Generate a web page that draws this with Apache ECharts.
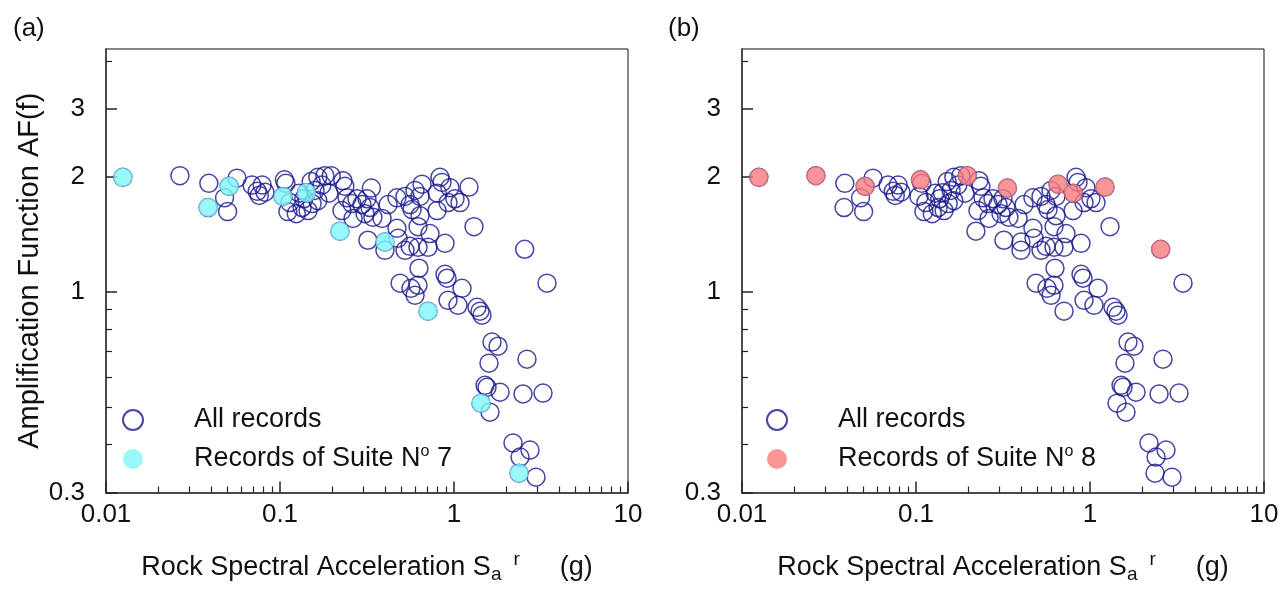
<!DOCTYPE html>
<html>
<head>
<meta charset="utf-8">
<script src="https://cdn.jsdelivr.net/npm/echarts@6/dist/echarts.min.js"></script>
<style>
  html, body { margin: 0; padding: 0; background: #fff; }
  #chart { width: 1287px; height: 593px; }
</style>
</head>
<body>
<div id="chart"></div>
<script>
// Rock spectral acceleration Sa^r (g) and amplification AF(f) of every record
const allSa = [
  0.0125, 0.0266, 0.039, 0.0386, 0.048, 0.050, 0.051, 0.0566, 0.069, 0.074,
  0.079, 0.082, 0.076, 0.106, 0.108, 0.104, 0.114, 0.111, 0.124, 0.134,
  0.145, 0.153, 0.137, 0.142, 0.129, 0.151, 0.165, 0.181, 0.197, 0.174,
  0.159, 0.191, 0.165, 0.236, 0.243, 0.227, 0.259, 0.221, 0.263, 0.277,
  0.230, 0.296, 0.316, 0.335, 0.329, 0.308, 0.342, 0.386, 0.418, 0.470,
  0.523, 0.559, 0.655, 0.597, 0.638, 0.574, 0.638, 0.621, 0.728, 0.799,
  0.802, 0.831, 0.853, 0.948, 1.013, 0.924, 1.083, 1.220, 1.303, 0.320,
  0.401, 0.401, 0.477, 0.470, 0.523, 0.559, 0.621, 0.709, 0.888, 0.629,
  0.490, 0.566, 0.621, 0.597, 0.709, 0.888, 0.912, 1.112, 0.924, 1.054,
  1.356, 1.411, 1.449, 1.653, 1.791, 1.589, 2.627, 1.508, 1.548, 1.839,
  2.493, 3.247, 1.430, 1.610, 2.183, 2.734, 2.396, 2.364, 2.960, 2.548,
  3.424
];
const allAF = [
  1.99, 2.01, 1.92, 1.66, 1.76, 1.62, 1.885, 1.98, 1.90, 1.83,
  1.90, 1.82, 1.785, 1.96, 1.92, 1.775, 1.71, 1.62, 1.60, 1.66,
  1.63, 1.70, 1.75, 1.815, 1.81, 1.94, 1.99, 2.01, 2.01, 1.90,
  1.84, 1.81, 1.73, 1.885, 1.76, 1.63, 1.70, 1.44, 1.555, 1.75,
  1.95, 1.69, 1.75, 1.866, 1.66, 1.60, 1.565, 1.555, 1.69, 1.76,
  1.775, 1.69, 1.91, 1.84, 1.775, 1.64, 1.58, 1.48, 1.42, 1.63,
  1.81, 1.99, 1.93, 1.87, 1.75, 1.71, 1.71, 1.877, 1.48, 1.364,
  1.349, 1.284, 1.38, 1.465, 1.284, 1.315, 1.307, 1.307, 1.339, 1.153,
  1.054, 1.022, 1.041, 0.98, 0.891, 1.112, 1.086, 1.022, 0.951, 0.923,
  0.912, 0.891, 0.870, 0.740, 0.722, 0.652, 0.668, 0.571, 0.564, 0.548,
  0.542, 0.545, 0.513, 0.486, 0.404, 0.387, 0.371, 0.337, 0.329, 1.292,
  1.054
];

// Records selected for suite No 7
const suite7Sa = [0.0125, 0.0386, 0.051, 0.104, 0.142, 0.221, 0.401, 0.709, 1.430, 2.364];
const suite7AF = [1.99, 1.66, 1.885, 1.775, 1.815, 1.44, 1.349, 0.891, 0.513, 0.337];

// Records selected for suite No 8
const suite8Sa = [0.0125, 0.0266, 0.051, 0.106, 0.197, 0.335, 0.655, 0.802, 1.220, 2.548];
const suite8AF = [1.99, 2.01, 1.885, 1.96, 2.01, 1.866, 1.91, 1.81, 1.877, 1.292];

// Axis ranges and tick values
const xRange = [0.01, 10];
const yRange = [0.3, 4.3];
const yLabelTicks = [0.3, 1, 2, 3];
const yMinorTicks = [0.4, 0.5, 0.6, 0.7, 0.8, 0.9, 4];
const xMinorTicks = [];
for (const decade of [0.01, 0.1, 1]) {
  for (let m = 2; m <= 9; m++) xMinorTicks.push(+(decade * m).toPrecision(3));
}

const panels = [
  { tag: '(a)', suiteName: 'Records of Suite No 7', suiteSa: suite7Sa, suiteAF: suite7AF, suiteColor: '#80f6f6', legendLeft: 122 },
  { tag: '(b)', suiteName: 'Records of Suite No 8', suiteSa: suite8Sa, suiteAF: suite8AF, suiteColor: '#f87b7b', legendLeft: 766 }
];

const FONT = 'Liberation Sans, Arial, sans-serif';
const TEXT = '#111';
const AXIS = '#4a4a4a';
const NAVY = '#17178c';
const lg = Math.log10;

const pair = (xs, ys) => xs.map((x, i) => [x, ys[i]]);

const grids = [], xAxes = [], yAxes = [], series = [], legends = [], titles = [];

panels.forEach((p, i) => {
  const left = 106 + i * 636;
  grids.push({ left: left, top: 49, width: 522, height: 443.5, show: true, borderColor: '#111', borderWidth: 1, backgroundColor: 'transparent' });

  // log axis carrying the data, decade ticks and labels
  xAxes.push({
    gridIndex: i, type: 'log', logBase: 10, min: xRange[0], max: xRange[1], position: 'bottom',
    axisLine: { show: true, onZero: false, lineStyle: { color: AXIS, width: 2 } },
    axisTick: { show: true, inside: true, length: 11, lineStyle: { color: '#222', width: 1.5 } },
    axisLabel: { show: true, margin: 9, fontFamily: FONT, fontSize: 26, color: TEXT,
      formatter: v => String(+(+v).toPrecision(3)) },
    splitLine: { show: false }, minorTick: { show: false }, minorSplitLine: { show: false },
    name: 'Rock Spectral Acceleration S{sub|a}{sp1|}{sup|r}{sp2|}(g)',
    nameLocation: 'middle', nameGap: 58,
    nameTextStyle: { fontFamily: FONT, fontSize: 27, color: TEXT, lineHeight: 34,
      rich: {
        sub: { fontFamily: FONT, fontSize: 19, color: TEXT, verticalAlign: 'bottom', lineHeight: 21 },
        sup: { fontFamily: FONT, fontSize: 19, color: TEXT, verticalAlign: 'top', lineHeight: 16 },
        sp1: { width: 12 },
        sp2: { width: 40 }
      } }
  });
  // log10 space axis for the 2..9 minor ticks
  xAxes.push({
    gridIndex: i, type: 'value', min: lg(xRange[0]), max: lg(xRange[1]), position: 'bottom',
    axisLine: { show: false, onZero: false },
    axisTick: { show: true, inside: true, length: 6, customValues: xMinorTicks.map(lg), lineStyle: { color: '#222', width: 1.2 } },
    axisLabel: { show: false }, splitLine: { show: false }
  });

  // log axis carrying the data
  yAxes.push({
    gridIndex: i, type: 'log', logBase: 10, min: yRange[0], max: yRange[1], position: 'left',
    axisLine: { show: true, onZero: false, lineStyle: { color: AXIS, width: 2 } },
    axisTick: { show: false }, axisLabel: { show: false },
    splitLine: { show: false }, minorTick: { show: false }, minorSplitLine: { show: false }
  });
  // log10 space axis with the labelled ticks
  yAxes.push({
    gridIndex: i, type: 'value', min: lg(yRange[0]), max: lg(yRange[1]), position: 'left',
    axisLine: { show: false, onZero: false },
    axisTick: { show: true, inside: true, length: 11, customValues: yLabelTicks.map(lg), lineStyle: { color: '#222', width: 1.5 } },
    axisLabel: { show: true, margin: 21, customValues: yLabelTicks.map(lg), fontFamily: FONT, fontSize: 26, color: TEXT,
      formatter: v => String(Math.round(Math.pow(10, v) * 10) / 10) },
    splitLine: { show: false },
    name: i === 0 ? 'Amplification Function AF(f)' : '',
    nameLocation: 'middle', nameRotate: 90, nameGap: 62,
    nameTextStyle: { fontFamily: FONT, fontSize: 29, color: TEXT }
  });
  // log10 space axis with the unlabelled ticks
  yAxes.push({
    gridIndex: i, type: 'value', min: lg(yRange[0]), max: lg(yRange[1]), position: 'left',
    axisLine: { show: false, onZero: false },
    axisTick: { show: true, inside: true, length: 6, customValues: yMinorTicks.map(lg), lineStyle: { color: '#222', width: 1.2 } },
    axisLabel: { show: false }, splitLine: { show: false }
  });

  series.push({
    name: 'All records', type: 'scatter', xAxisIndex: i * 2, yAxisIndex: i * 3,
    symbol: 'circle', symbolSize: 18,
    itemStyle: { color: 'rgba(255,255,255,0)', borderColor: NAVY, borderWidth: 1.5 },
    data: pair(allSa, allAF), z: 3
  });
  series.push({
    name: p.suiteName, type: 'scatter', xAxisIndex: i * 2, yAxisIndex: i * 3,
    symbol: 'circle', symbolSize: 19,
    itemStyle: { color: p.suiteColor, borderWidth: 0 },
    data: pair(p.suiteSa, p.suiteAF), z: 4
  });

  legends.push({
    data: ['All records', p.suiteName], orient: 'vertical',
    left: p.legendLeft, top: 405, padding: 0, itemGap: 9,
    itemWidth: 20, itemHeight: 20, icon: 'circle', selectedMode: false,
    formatter: name => '{gap|}' + name.replace('No', 'N{sup|o}'),
    textStyle: { fontFamily: FONT, fontSize: 27, color: TEXT, lineHeight: 30,
      rich: {
        gap: { width: 46 },
        sup: { fontFamily: FONT, fontSize: 16, color: TEXT, verticalAlign: 'top', lineHeight: 16 }
      } }
  });

  titles.push({ text: p.tag, left: 13 + i * 655, top: 16, padding: 0,
    textStyle: { fontFamily: FONT, fontSize: 26, fontWeight: 'normal', color: TEXT } });
});

const chart = echarts.init(document.getElementById('chart'), null, { renderer: 'canvas' });
chart.setOption({
  animation: false,
  backgroundColor: '#fff',
  title: titles,
  grid: grids,
  xAxis: xAxes,
  yAxis: yAxes,
  legend: legends,
  series: series
});
</script>
</body>
</html>
